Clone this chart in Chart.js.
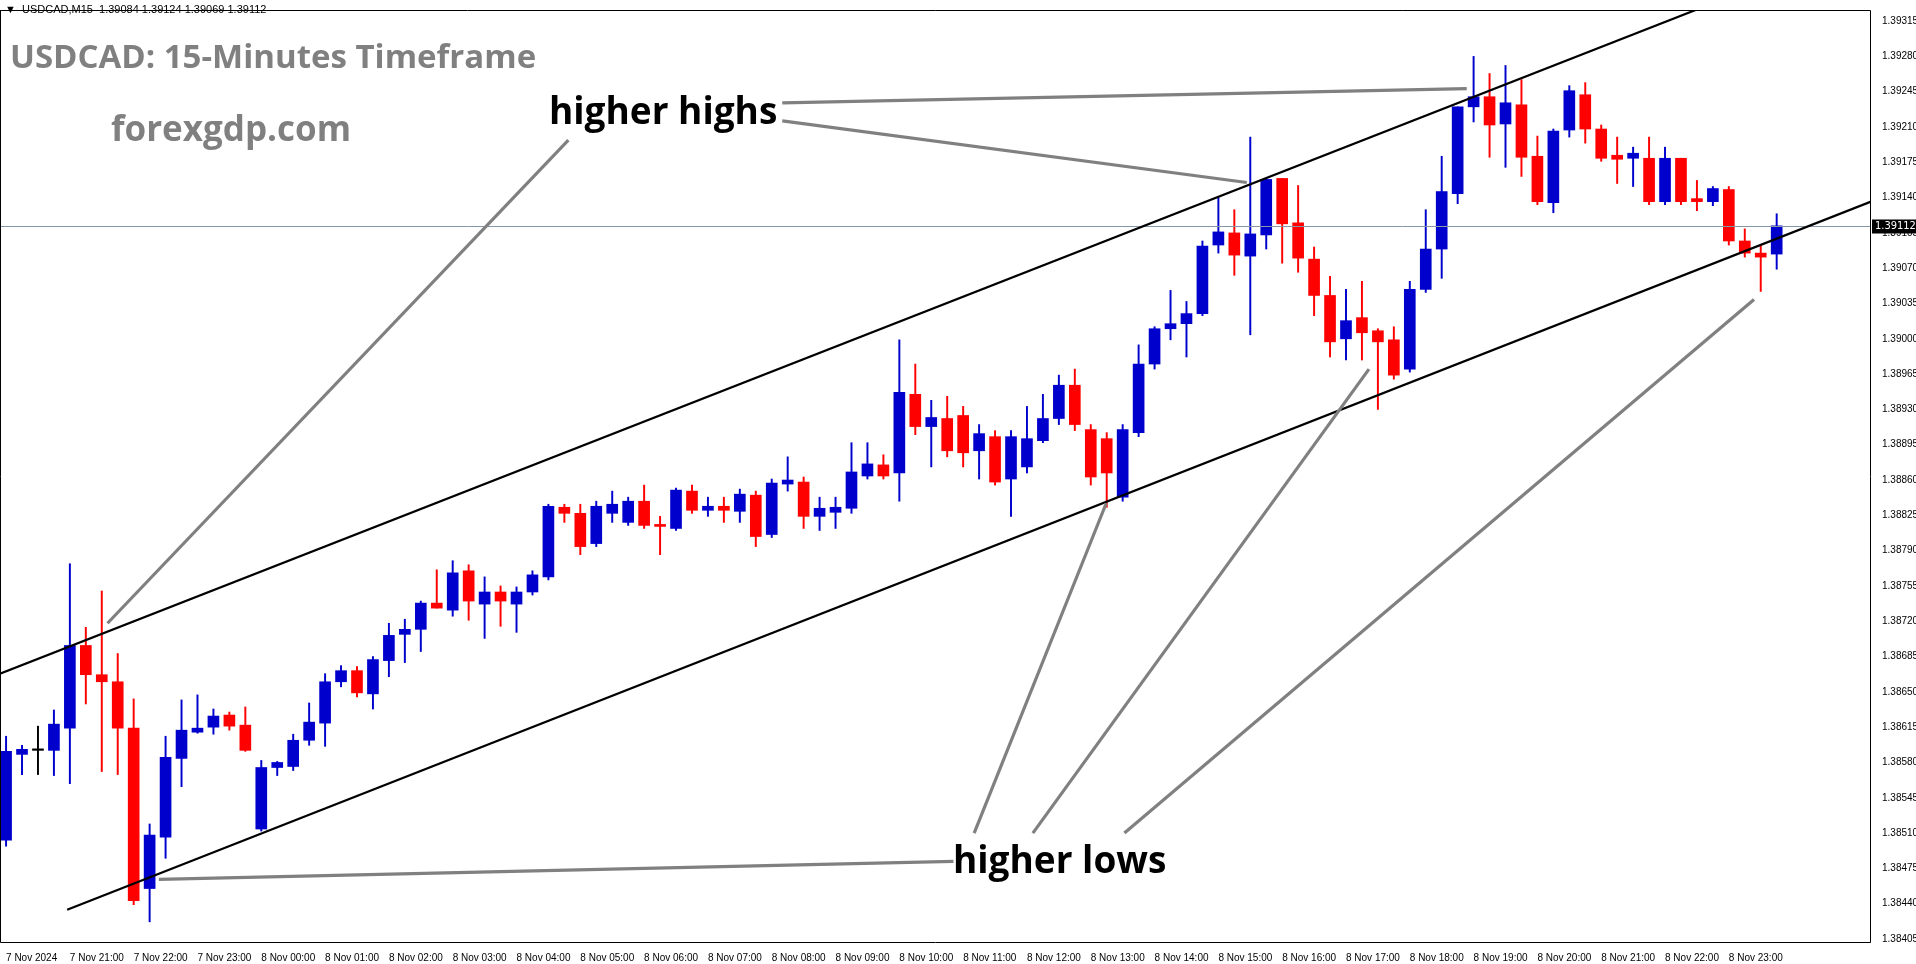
<!DOCTYPE html>
<html><head><meta charset="utf-8">
<script src="https://cdn.jsdelivr.net/npm/chart.js@4.4.1/dist/chart.umd.min.js"></script>
<style>html,body{margin:0;padding:0;background:#fff;overflow:hidden}#wrap{width:1916px;height:964px;position:relative}</style>
</head><body><div id="wrap"><canvas id="c" width="1916" height="964"></canvas></div>
<script>
const timeLabels = ["7 Nov 2024","7 Nov 21:00","7 Nov 22:00","7 Nov 23:00","8 Nov 00:00","8 Nov 01:00","8 Nov 02:00","8 Nov 03:00","8 Nov 04:00","8 Nov 05:00","8 Nov 06:00","8 Nov 07:00","8 Nov 08:00","8 Nov 09:00","8 Nov 10:00","8 Nov 11:00","8 Nov 12:00","8 Nov 13:00","8 Nov 14:00","8 Nov 15:00","8 Nov 16:00","8 Nov 17:00","8 Nov 18:00","8 Nov 19:00","8 Nov 20:00","8 Nov 21:00","8 Nov 22:00","8 Nov 23:00"];
const priceTicks = [1.38405,1.38440,1.38475,1.38510,1.38545,1.38580,1.38615,1.38650,1.38685,1.38720,1.38755,1.38790,1.38825,1.38860,1.38895,1.38930,1.38965,1.39000,1.39035,1.39070,1.39105,1.39140,1.39175,1.39210,1.39245,1.39280,1.39315];
const opens = [1.38503,1.38588,1.38592,1.38592,1.38614,1.38696,1.38667,1.38660,1.38614,1.38455,1.38506,1.38584,1.38610,1.38615,1.38627,1.38617,1.38514,1.38575,1.38576,1.38602,1.38619,1.38660,1.38671,1.38648,1.38681,1.38707,1.38712,1.38738,1.38731,1.38770,1.38737,1.38749,1.38737,1.38749,1.38764,1.38833,1.38827,1.38797,1.38827,1.38818,1.38839,1.38816,1.38812,1.38849,1.38830,1.38834,1.38829,1.38845,1.38806,1.38856,1.38858,1.38824,1.38828,1.38832,1.38864,1.38875,1.38867,1.38945,1.38913,1.38921,1.38924,1.38889,1.38903,1.38861,1.38873,1.38899,1.38921,1.38954,1.38910,1.38901,1.38843,1.38907,1.38975,1.39010,1.39015,1.39025,1.39093,1.39105,1.39082,1.39103,1.39159,1.39115,1.39079,1.39043,1.39000,1.39021,1.39008,1.38999,1.38970,1.39049,1.39089,1.39144,1.39230,1.39240,1.39213,1.39232,1.39181,1.39135,1.39207,1.39242,1.39208,1.39182,1.39179,1.39179,1.39136,1.39179,1.39139,1.39136,1.39148,1.39097,1.39085,1.39084];
const highs = [1.38606,1.38597,1.38616,1.38632,1.38777,1.38714,1.38750,1.38688,1.38643,1.38519,1.38606,1.38642,1.38647,1.38633,1.38630,1.38635,1.38582,1.38581,1.38608,1.38639,1.38668,1.38676,1.38675,1.38685,1.38718,1.38722,1.38740,1.38771,1.38780,1.38776,1.38764,1.38755,1.38754,1.38770,1.38836,1.38836,1.38836,1.38839,1.38849,1.38843,1.38855,1.38824,1.38852,1.38855,1.38843,1.38843,1.38851,1.38849,1.38861,1.38883,1.38863,1.38843,1.38843,1.38897,1.38897,1.38885,1.38999,1.38975,1.38939,1.38943,1.38933,1.38915,1.38909,1.38909,1.38933,1.38945,1.38964,1.38970,1.38915,1.38907,1.38915,1.38994,1.39012,1.39048,1.39037,1.39097,1.39141,1.39128,1.39200,1.39159,1.39159,1.39152,1.39091,1.39062,1.39049,1.39057,1.39010,1.39012,1.39057,1.39128,1.39181,1.39230,1.39280,1.39263,1.39271,1.39257,1.39201,1.39208,1.39251,1.39254,1.39212,1.39200,1.39190,1.39200,1.39190,1.39179,1.39157,1.39151,1.39151,1.39109,1.39093,1.39124];
const lows = [1.38497,1.38568,1.38568,1.38567,1.38559,1.38638,1.38571,1.38568,1.38439,1.38422,1.38485,1.38556,1.38609,1.38608,1.38612,1.38591,1.38512,1.38567,1.38572,1.38597,1.38596,1.38655,1.38645,1.38633,1.38665,1.38679,1.38690,1.38733,1.38725,1.38721,1.38703,1.38715,1.38709,1.38746,1.38761,1.38818,1.38786,1.38794,1.38818,1.38815,1.38812,1.38786,1.38810,1.38827,1.38824,1.38818,1.38818,1.38794,1.38803,1.38849,1.38812,1.38810,1.38812,1.38827,1.38861,1.38861,1.38839,1.38905,1.38873,1.38883,1.38873,1.38861,1.38855,1.38824,1.38867,1.38897,1.38915,1.38909,1.38855,1.38833,1.38839,1.38903,1.38970,1.38999,1.38982,1.39023,1.39085,1.39063,1.39004,1.39089,1.39075,1.39066,1.39023,1.38982,1.38979,1.38979,1.38930,1.38960,1.38967,1.39046,1.39060,1.39134,1.39215,1.39180,1.39170,1.39161,1.39133,1.39125,1.39200,1.39194,1.39176,1.39154,1.39151,1.39133,1.39133,1.39133,1.39127,1.39132,1.39093,1.39081,1.39047,1.39069];
const closes = [1.38591,1.38593,1.38592,1.38618,1.38696,1.38667,1.38660,1.38614,1.38443,1.38508,1.38585,1.38612,1.38614,1.38626,1.38616,1.38592,1.38575,1.38580,1.38602,1.38620,1.38660,1.38671,1.38649,1.38682,1.38706,1.38712,1.38738,1.38733,1.38768,1.38740,1.38749,1.38740,1.38749,1.38766,1.38834,1.38827,1.38794,1.38834,1.38836,1.38839,1.38815,1.38814,1.38850,1.38830,1.38834,1.38830,1.38846,1.38804,1.38857,1.38860,1.38824,1.38832,1.38833,1.38868,1.38876,1.38864,1.38947,1.38913,1.38922,1.38889,1.38887,1.38906,1.38858,1.38903,1.38901,1.38921,1.38954,1.38915,1.38863,1.38867,1.38910,1.38975,1.39010,1.39015,1.39025,1.39092,1.39106,1.39083,1.39104,1.39158,1.39114,1.39080,1.39043,1.38997,1.39018,1.39006,1.38997,1.38964,1.39049,1.39089,1.39146,1.39230,1.39240,1.39212,1.39234,1.39180,1.39136,1.39206,1.39246,1.39208,1.39179,1.39178,1.39184,1.39136,1.39179,1.39136,1.39136,1.39149,1.39097,1.39085,1.39081,1.39112];
const lastPrice = 1.39112;
// channel lines and annotation arrows in [candleIndex, price]
const upperChannel = [[-0.38,1.38668],[106.4,1.39329]];
const lowerChannel = [[3.83,1.38434],[116.9,1.39136]];
const highArrows = [[[48.66,1.39234],[91.57,1.39248]],[[48.66,1.39216],[77.78,1.39155]],[[35.25,1.39197],[6.36,1.38718]]];
const lowArrows = [[[59.39,1.38482],[9.58,1.38464]],[[60.69,1.38510],[68.97,1.38837]],[[64.37,1.38510],[85.44,1.38970]],[[70.11,1.38510],[109.58,1.39039]]];

const BLUE='#0000CD', RED='#FF0000';
const idx = opens.map((_,i)=>i);
const col = idx.map(i=> closes[i]>opens[i]?BLUE:(closes[i]<opens[i]?RED:'#000'));
const wick = idx.map(i=>({x:i,y:[lows[i],highs[i]]}));
const body = idx.map(i=>({x:i,y:[opens[i],closes[i]]}));
const xTicks = timeLabels.map((_,k)=>k*4);

const overlay = {
  id:'overlay',
  afterDatasetsDraw(ch){
    const {ctx, scales:{x,y}, chartArea:a} = ch;
    const P = p=>[x.getPixelForValue(p[0]), y.getPixelForValue(p[1])];
    ctx.save();
    ctx.beginPath(); ctx.rect(a.left,a.top,a.right-a.left,a.bottom-a.top); ctx.clip();
    const yp = Math.round(y.getPixelForValue(lastPrice))+0.5;
    ctx.strokeStyle='#8796A5'; ctx.lineWidth=1;
    ctx.beginPath(); ctx.moveTo(a.left,yp); ctx.lineTo(a.right,yp); ctx.stroke();
    ctx.strokeStyle='#000'; ctx.lineWidth=2.2;
    [upperChannel, lowerChannel].forEach(l=>{
      const s=P(l[0]), e=P(l[1]);
      const m=(e[1]-s[1])/(e[0]-s[0]);
      ctx.beginPath(); ctx.moveTo(s[0],s[1]); ctx.lineTo(e[0]+400, e[1]+400*m); ctx.stroke();
    });
    ctx.strokeStyle='#808080'; ctx.lineWidth=3.2; ctx.lineCap='butt';
    [...highArrows,...lowArrows].forEach(l=>{
      const s=P(l[0]), e=P(l[1]);
      ctx.beginPath(); ctx.moveTo(s[0],s[1]); ctx.lineTo(e[0],e[1]); ctx.stroke();
    });
    ctx.restore();
    ctx.save();
    ctx.strokeStyle='#000'; ctx.lineWidth=1;
    ctx.beginPath(); ctx.moveTo(a.left+0.5,a.top); ctx.lineTo(a.left+0.5,a.bottom+0.5); ctx.lineTo(a.right+0.5,a.bottom+0.5); ctx.lineTo(a.right+0.5,a.top+0.5); ctx.lineTo(a.left,a.top+0.5); ctx.stroke();
    ctx.fillStyle='#000'; ctx.fillRect(a.right+2, yp-7, 44, 14);
    ctx.fillStyle='#fff'; ctx.font='11px "DejaVu Sans Condensed", "Liberation Sans", sans-serif';
    ctx.textBaseline='middle'; ctx.textAlign='left';
    ctx.fillText(lastPrice.toFixed(5), a.right+5, yp);
    ctx.fillStyle='#000'; ctx.font='11px "Liberation Sans", sans-serif'; ctx.textBaseline='alphabetic';
    ctx.fillText('▼  USDCAD,M15  1.39084 1.39124 1.39069 1.39112', 5, 13);
    ctx.fillStyle='#808080'; ctx.font='bold 33px "Open Sans", sans-serif';
    ctx.fillText('USDCAD: 15-Minutes Timeframe', 10, 68);
    ctx.font='bold 35px "Open Sans", sans-serif';
    ctx.fillText('forexgdp.com', 111, 141);
    ctx.fillStyle='#000'; ctx.font='bold 37px "Open Sans", sans-serif';
    ctx.fillText('higher highs', 549, 124);
    ctx.fillText('higher lows', 953, 873);
    ctx.restore();
  }
};

new Chart(document.getElementById('c'), {
  type:'bar',
  data:{datasets:[
    {data:wick, backgroundColor:col, barThickness:1.3, grouped:false, order:2},
    {data:body, backgroundColor:col, barThickness:11, grouped:false, minBarLength:1.5, order:1}
  ]},
  options:{
    responsive:false, devicePixelRatio:1, animation:false,
    layout:{padding:{top:0,left:0,right:0,bottom:0}},
    plugins:{legend:{display:false}, tooltip:{enabled:false}},
    scales:{
      x:{type:'linear', min:-0.38, max:116.85, offset:false,
        grid:{display:false, drawTicks:true},
        border:{display:false},
        afterBuildTicks(s){ s.ticks = xTicks.map(v=>({value:v})); },
        afterFit(s){ s.height=22; },
        ticks:{autoSkip:false, maxRotation:0, align:'start', padding:2, color:'#000',
          font:{size:10, family:'"Liberation Sans", sans-serif'},
          callback:(v)=>timeLabels[Math.round(v/4)] ?? ''}
      },
      y:{position:'right', min:1.38402, max:1.39326,
        grid:{display:false},
        border:{display:false},
        afterBuildTicks(s){ s.ticks = priceTicks.map(v=>({value:v})); },
        afterFit(s){ s.width=46; },
        ticks:{autoSkip:false, padding:4, color:'#000',
          font:{size:10, family:'"Liberation Sans", sans-serif'},
          callback:(v)=>v.toFixed(5)}
      }
    }
  },
  plugins:[overlay]
});
</script></body></html>
